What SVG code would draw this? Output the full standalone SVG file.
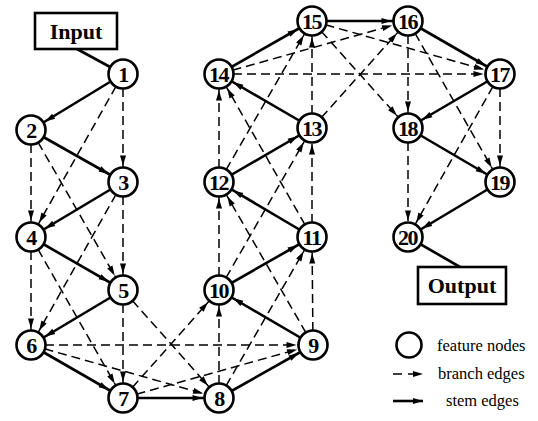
<svg xmlns="http://www.w3.org/2000/svg" width="538" height="421" viewBox="0 0 538 421">
<style>
.s{stroke:#000;stroke-width:2.6;fill:none;marker-end:url(#ah)}
.b{stroke:#000;stroke-width:1.5;fill:none;stroke-dasharray:9 5;marker-end:url(#ah)}
.n circle{fill:#fff;stroke:#000;stroke-width:2.6}
.n text{font-family:"Liberation Serif",serif;font-weight:bold;font-size:22px;text-anchor:middle;letter-spacing:-1.5px}
.box{fill:#fff;stroke:#000;stroke-width:2.6}
.bt{font-family:"Liberation Serif",serif;font-weight:bold;font-size:22px;text-anchor:middle}
.lt{font-family:"Liberation Serif",serif;font-size:16.5px}
</style>
<defs>
<marker id="ah" markerUnits="userSpaceOnUse" markerWidth="12" markerHeight="8" refX="26.5" refY="3" orient="auto" overflow="visible">
<path d="M0,0 L10,3 L0,6 z" fill="#000"/>
</marker>
<marker id="al" markerUnits="userSpaceOnUse" markerWidth="12" markerHeight="8" refX="10" refY="3" orient="auto" overflow="visible">
<path d="M0,0 L10,3 L0,6 z" fill="#000"/>
</marker>
</defs>
<g id="connectors">
<line x1="77" y1="49" x2="123" y2="74" stroke="#000" stroke-width="2.6"/>
<line x1="408" y1="237" x2="460" y2="267" stroke="#000" stroke-width="2.6"/>
<line class="s" x1="123" y1="74" x2="31" y2="130"/>
<line class="s" x1="31" y1="130" x2="123" y2="182"/>
<line class="s" x1="123" y1="182" x2="31" y2="237"/>
<line class="s" x1="31" y1="237" x2="123" y2="290"/>
<line class="s" x1="123" y1="290" x2="31" y2="345"/>
<line class="s" x1="31" y1="345" x2="123" y2="398"/>
<line class="s" x1="123" y1="398" x2="219" y2="398"/>
<line class="s" x1="219" y1="398" x2="313" y2="345"/>
<line class="s" x1="313" y1="345" x2="219" y2="290"/>
<line class="s" x1="219" y1="290" x2="312" y2="237"/>
<line class="s" x1="312" y1="237" x2="219" y2="182"/>
<line class="s" x1="219" y1="182" x2="312" y2="128"/>
<line class="s" x1="312" y1="128" x2="219" y2="74"/>
<line class="s" x1="219" y1="74" x2="312" y2="21"/>
<line class="s" x1="312" y1="21" x2="408" y2="21"/>
<line class="s" x1="408" y1="21" x2="500" y2="74"/>
<line class="s" x1="500" y1="74" x2="408" y2="128"/>
<line class="s" x1="408" y1="128" x2="500" y2="182"/>
<line class="s" x1="500" y1="182" x2="408" y2="237"/>
<line class="b" x1="123" y1="74" x2="123" y2="182"/>
<line class="b" x1="31" y1="130" x2="31" y2="237"/>
<line class="b" x1="123" y1="182" x2="123" y2="290"/>
<line class="b" x1="31" y1="237" x2="31" y2="345"/>
<line class="b" x1="123" y1="290" x2="123" y2="398"/>
<line class="b" x1="31" y1="345" x2="219" y2="398"/>
<line class="b" x1="123" y1="398" x2="313" y2="345"/>
<line class="b" x1="219" y1="398" x2="219" y2="290"/>
<line class="b" x1="313" y1="345" x2="312" y2="237"/>
<line class="b" x1="219" y1="290" x2="219" y2="182"/>
<line class="b" x1="312" y1="237" x2="312" y2="128"/>
<line class="b" x1="219" y1="182" x2="219" y2="74"/>
<line class="b" x1="312" y1="128" x2="312" y2="21"/>
<line class="b" x1="219" y1="74" x2="408" y2="21"/>
<line class="b" x1="312" y1="21" x2="500" y2="74"/>
<line class="b" x1="408" y1="21" x2="408" y2="128"/>
<line class="b" x1="500" y1="74" x2="500" y2="182"/>
<line class="b" x1="408" y1="128" x2="408" y2="237"/>
<line class="b" x1="123" y1="74" x2="31" y2="237"/>
<line class="b" x1="31" y1="130" x2="123" y2="290"/>
<line class="b" x1="123" y1="182" x2="31" y2="345"/>
<line class="b" x1="31" y1="237" x2="123" y2="398"/>
<line class="b" x1="123" y1="290" x2="219" y2="398"/>
<line class="b" x1="31" y1="345" x2="313" y2="345"/>
<line class="b" x1="123" y1="398" x2="219" y2="290"/>
<line class="b" x1="219" y1="398" x2="312" y2="237"/>
<line class="b" x1="313" y1="345" x2="219" y2="182"/>
<line class="b" x1="219" y1="290" x2="312" y2="128"/>
<line class="b" x1="312" y1="237" x2="219" y2="74"/>
<line class="b" x1="219" y1="182" x2="312" y2="21"/>
<line class="b" x1="312" y1="128" x2="408" y2="21"/>
<line class="b" x1="219" y1="74" x2="500" y2="74"/>
<line class="b" x1="312" y1="21" x2="408" y2="128"/>
<line class="b" x1="408" y1="21" x2="500" y2="182"/>
<line class="b" x1="500" y1="74" x2="408" y2="237"/>
</g>
<g id="input"><rect class="box" x="35" y="13" width="82" height="36"/><text class="bt" x="76" y="39">Input</text></g>
<g id="output"><rect class="box" x="418" y="267" width="88" height="37"/><text class="bt" x="462" y="293">Output</text></g>
<g id="n1" class="n"><circle cx="123" cy="74" r="14.5"/><text x="123" y="82">1</text></g>
<g id="n2" class="n"><circle cx="31" cy="130" r="14.5"/><text x="31" y="138">2</text></g>
<g id="n3" class="n"><circle cx="123" cy="182" r="14.5"/><text x="123" y="190">3</text></g>
<g id="n4" class="n"><circle cx="31" cy="237" r="14.5"/><text x="31" y="245">4</text></g>
<g id="n5" class="n"><circle cx="123" cy="290" r="14.5"/><text x="123" y="298">5</text></g>
<g id="n6" class="n"><circle cx="31" cy="345" r="14.5"/><text x="31" y="353">6</text></g>
<g id="n7" class="n"><circle cx="123" cy="398" r="14.5"/><text x="123" y="406">7</text></g>
<g id="n8" class="n"><circle cx="219" cy="398" r="14.5"/><text x="219" y="406">8</text></g>
<g id="n9" class="n"><circle cx="313" cy="345" r="14.5"/><text x="313" y="353">9</text></g>
<g id="n10" class="n"><circle cx="219" cy="290" r="14.5"/><text x="218.5" y="298">10</text></g>
<g id="n11" class="n"><circle cx="312" cy="237" r="14.5"/><text x="311.5" y="245">11</text></g>
<g id="n12" class="n"><circle cx="219" cy="182" r="14.5"/><text x="218.5" y="190">12</text></g>
<g id="n13" class="n"><circle cx="312" cy="128" r="14.5"/><text x="311.5" y="136">13</text></g>
<g id="n14" class="n"><circle cx="219" cy="74" r="14.5"/><text x="218.5" y="82">14</text></g>
<g id="n15" class="n"><circle cx="312" cy="21" r="14.5"/><text x="311.5" y="29">15</text></g>
<g id="n16" class="n"><circle cx="408" cy="21" r="14.5"/><text x="407.5" y="29">16</text></g>
<g id="n17" class="n"><circle cx="500" cy="74" r="14.5"/><text x="499.5" y="82">17</text></g>
<g id="n18" class="n"><circle cx="408" cy="128" r="14.5"/><text x="407.5" y="136">18</text></g>
<g id="n19" class="n"><circle cx="500" cy="182" r="14.5"/><text x="499.5" y="190">19</text></g>
<g id="n20" class="n"><circle cx="408" cy="237" r="14.5"/><text x="407.5" y="245">20</text></g>
<g id="legend">
<circle cx="409" cy="345" r="12.5" fill="#fff" stroke="#000" stroke-width="2.6"/>
<text class="lt" x="437" y="351">feature nodes</text>
<line x1="393" y1="374" x2="423" y2="374" stroke="#000" stroke-width="1.5" stroke-dasharray="9 6" marker-end="url(#al)"/>
<text class="lt" x="438" y="379">branch edges</text>
<line x1="393" y1="401" x2="423" y2="401" stroke="#000" stroke-width="2.6" marker-end="url(#al)"/>
<text class="lt" x="446" y="406">stem edges</text>
</g>
</svg>
